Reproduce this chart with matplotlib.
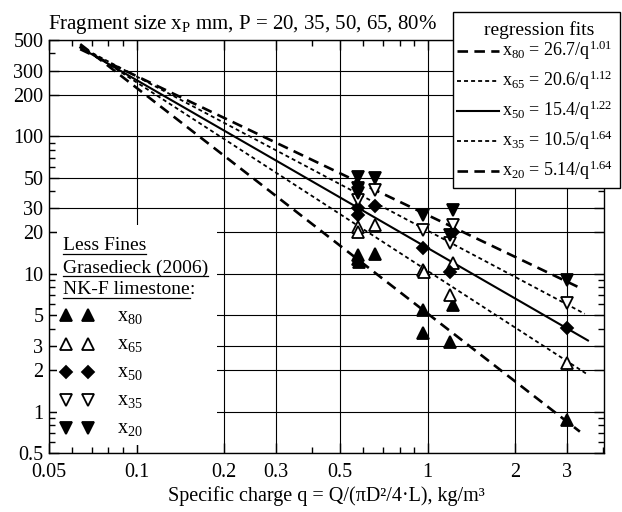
import numpy as np
import matplotlib
matplotlib.use("Agg")
import matplotlib.pyplot as plt
from matplotlib.patches import Rectangle
from matplotlib.lines import Line2D
from matplotlib.ticker import FixedLocator, NullFormatter

plt.rcParams['font.family'] = ['Liberation Serif', 'DejaVu Serif']
plt.rcParams['mathtext.fontset'] = 'custom'
plt.rcParams['mathtext.rm'] = 'Liberation Serif'
plt.rcParams['mathtext.it'] = 'Liberation Serif:italic'

# regression fits (coefficient / exponent as drawn), labels as printed
fit_coef = [26.7, 20.6, 15.4, 10.5, 5.14]
fit_exp = [1.01, 1.12, 1.22, 1.37, 1.64]
fit_q_end = [3.38, 3.46, 3.55, 3.55, 3.33]
fit_q_start = 0.064
fit_labels = [r"x$_{80}$ = 26.7/q$^{1.01}$", r"x$_{65}$ = 20.6/q$^{1.12}$",
              r"x$_{50}$ = 15.4/q$^{1.22}$", r"x$_{35}$ = 10.5/q$^{1.64}$",
              r"x$_{20}$ = 5.14/q$^{1.64}$"]

# measured points (Grasedieck 2006, NK-F limestone)
q_x80 = [0.575, 0.575, 0.58, 0.66, 0.96, 0.96, 1.19, 1.22, 3.0]
y_x80 = [13.7, 12.8, 12.2, 14.0, 5.5, 3.7, 3.2, 5.95, 0.87]
q_x65 = [0.575, 0.575, 0.66, 0.96, 0.97, 1.19, 1.22, 3.0]
y_x65 = [22.0, 20.2, 22.7, 10.7, 10.3, 7.0, 12.0, 2.24]
q_x50 = [0.575, 0.575, 0.66, 0.96, 1.19, 1.22, 3.0]
y_x50 = [30.0, 26.7, 31.0, 15.4, 10.4, 20.0, 4.03]
q_x35 = [0.575, 0.66, 0.96, 1.19, 1.22, 3.0]
y_x35 = [34.4, 40.7, 20.9, 16.9, 22.7, 6.12]
q_x20 = [0.575, 0.575, 0.575, 0.66, 0.96, 1.19, 1.22, 3.0]
y_x20 = [50.5, 42.0, 38.5, 50.0, 27.0, 19.3, 29.1, 9.04]

x_ticks = [0.05, 0.1, 0.2, 0.3, 0.5, 1, 2, 3]
x_minor = [0.06, 0.07, 0.08, 0.09, 0.4, 0.6, 0.7, 0.8, 0.9, 4]
y_ticks = [0.5, 1, 2, 3, 5, 10, 20, 30, 50, 100, 200, 300, 500]
y_minor = [0.6, 0.7, 0.8, 0.9, 4, 6, 7, 8, 9, 40, 60, 70, 80, 90, 400]

line_styles = [dict(ls=(0, (4, 2.4)), lw=1.9),
               dict(ls=(0, (2.2, 1.7)), lw=1.3),
               dict(ls='-', lw=1.5),
               dict(ls=(0, (2.2, 1.7)), lw=1.3),
               dict(ls=(0, (4, 2.4)), lw=1.9)]

marker_styles = [dict(marker='^', mfc='black'), dict(marker='^', mfc='white'),
                 dict(marker='D', mfc='black'), dict(marker='v', mfc='white'),
                 dict(marker='v', mfc='black')]
marker_sizes = [9, 9, 6.5, 9, 9]
point_sets = [(q_x80, y_x80), (q_x65, y_x65), (q_x50, y_x50), (q_x35, y_x35), (q_x20, y_x20)]
point_labels = [r"x$_{80}$", r"x$_{65}$", r"x$_{50}$", r"x$_{35}$", r"x$_{20}$"]

W, H = 622, 512
fig = plt.figure(figsize=(W / 100, H / 100), dpi=100)
ax = fig.add_axes([49 / W, 59 / H, 555 / W, 413 / H])
ax.set_xscale('log')
ax.set_yscale('log')
ax.set_xlim(0.05, 4.03)
ax.set_ylim(0.5, 500)

ax.xaxis.set_major_locator(FixedLocator(x_ticks))
ax.xaxis.set_minor_locator(FixedLocator(x_minor))
ax.yaxis.set_major_locator(FixedLocator(y_ticks))
ax.yaxis.set_minor_locator(FixedLocator(y_minor))
ax.set_xticklabels([f"{v:g}" for v in x_ticks])
ax.set_yticklabels([f"{v:g}" for v in y_ticks])
ax.xaxis.set_minor_formatter(NullFormatter())
ax.yaxis.set_minor_formatter(NullFormatter())
ax.tick_params(which='both', direction='in', top=True, right=True, labelsize=14.5, width=1)
ax.tick_params(which='major', length=7)
ax.tick_params(which='minor', length=4)
ax.tick_params(axis='x', pad=7)
ax.tick_params(axis='y', pad=4)
ax.grid(True, which='major', color='black', lw=0.8)
for s in ax.spines.values():
    s.set_linewidth(1)

ax.set_xlabel("Specific charge q = Q/(\u03c0D\u00b2/4\u00b7L), kg/m\u00b3", fontsize=14.5, labelpad=3)

# fit lines
for a, b, qe, st in zip(fit_coef, fit_exp, fit_q_end, line_styles):
    qq = np.geomspace(fit_q_start, qe, 50)
    ax.plot(qq, a / qq ** b, color='black', zorder=3, **st)

# measured points
for (qs, ys), ms, sz in zip(point_sets, marker_styles, marker_sizes):
    ax.plot(qs, ys, ls='none', color='black', mec='black', mew=1.3, ms=sz, zorder=4, **ms)

# white area behind the point legend
ax.add_patch(Rectangle((8 / 555, 8 / 413), 160 / 555, 220 / 413, transform=ax.transAxes,
                       facecolor='white', edgecolor='none', zorder=1.7))

# overlay in pixel coords for title and legends
ov = fig.add_axes([0, 0, 1, 1], zorder=10)
ov.set_xlim(0, W)
ov.set_ylim(H, 0)
ov.axis('off')
ov.patch.set_alpha(0)

ov.text(48, 25, r"Fragment size x$_\mathrm{P}$ mm, P = 20, 35, 50, 65, 80%", fontsize=15,
        ha='left', va='center')

# regression fits legend
ov.add_patch(Rectangle((453, 12), 167, 176, facecolor='white', edgecolor='black', lw=1))
ov.text(539, 30, "regression fits", fontsize=14, ha='center', va='center')
row_y = [51, 81, 111, 141, 171]
for yy, st, lab in zip(row_y, line_styles, fit_labels):
    ov.add_line(Line2D([457, 499], [yy, yy], color='black', **st))
    ov.text(502, yy - 1, lab, fontsize=13, ha='left', va='center')

# point legend
heads = ["Less Fines", "Grasedieck (2006)", "NK-F limestone"]
head_y = [246, 268, 290]
texts = []
for yy, h in zip(head_y, heads):
    texts.append(ov.text(63, yy, h, fontsize=14, ha='left', va='center'))
colon = ov.text(0, head_y[-1], ":", fontsize=14, ha='left', va='center')

mk_y = [315, 344, 372, 400, 428]
for yy, ms, sz, lab in zip(mk_y, marker_styles, marker_sizes, point_labels):
    ov.plot([66, 88], [yy, yy], ls='none', color='black', mec='black', mew=1.3, ms=sz, **ms)
    ov.text(117, yy + 1, lab, fontsize=14.5, ha='left', va='center')

fig.canvas.draw()
r = fig.canvas.get_renderer()
for t in texts:
    bb = t.get_window_extent(r)
    yl = H - bb.y0 - 1
    ov.add_line(Line2D([bb.x0, bb.x1], [yl, yl], color='black', lw=0.9))
bb = texts[-1].get_window_extent(r)
colon.set_x(bb.x1)

fig.savefig("out.png", dpi=100)
